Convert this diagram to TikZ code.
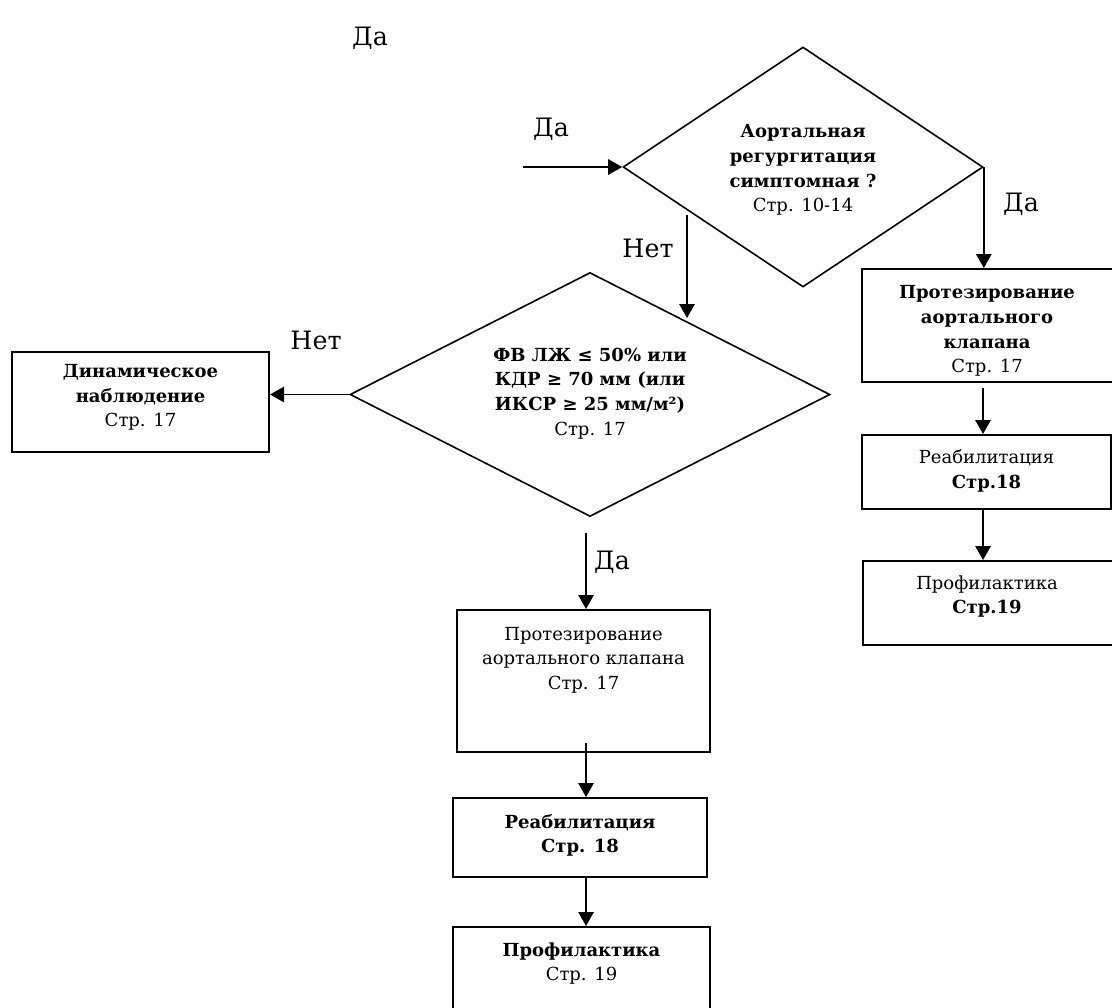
\documentclass[tikz,border=0pt]{standalone}
\usepackage{fontspec}
\setmainfont{DejaVu Serif}
\usetikzlibrary{shapes.geometric,arrows.meta}
\tikzset{
  box/.style={draw, line width=1.5pt, inner sep=0pt, rectangle},
  dia/.style={draw, line width=1.2pt, inner sep=0pt, diamond},
  txt/.style={align=center, inner sep=0pt, font=\fontsize{13.5}{18.5}\selectfont},
  lbl/.style={inner sep=0pt, font=\fontsize{19}{21}\selectfont},
  arr/.style={line width=1.4pt, -{Triangle[length=10.5pt,width=11.5pt]}},
}
\begin{document}
\begin{tikzpicture}[x=0.75pt,y=-0.75pt]
\useasboundingbox (0,0) rectangle (1112,1007);
% diamonds
\node[dia, minimum width=270pt, minimum height=180pt] (d1) at (803,167) {};
\node[txt] (d1t) at (803,170) {\textbf{Аортальная}\\\textbf{регургитация}\\\textbf{симптомная ?}\\Стр. 10-14};
\node[dia, minimum width=360pt, minimum height=183pt] (d2) at (590,394.5) {};
\node[txt] (d2t) at (590,393.5) {\textbf{ФВ ЛЖ ≤ 50\% или}\\\textbf{КДР ≥ 70 мм (или}\\\textbf{ИКСР ≥ 25 мм/м²)}\\Стр. 17};
% boxes
\node[box, minimum width=192.75pt, minimum height=75pt] (dyn) at (140.5,402) {};
\node[txt] (dynt) at (140.5,397.5) {\textbf{Динамическое}\\\textbf{наблюдение}\\Стр. 17};
\node[box, minimum width=189pt, minimum height=84.75pt] (p1) at (988,325.5) {};
\node[txt] (p1t) at (987,331) {\textbf{Протезирование}\\\textbf{аортального}\\\textbf{клапана}\\Стр. 17};
\node[box, minimum width=186.75pt, minimum height=55.5pt] (r1) at (986.5,472) {};
\node[txt] (r1t) at (986.5,471) {Реабилитация\\\textbf{Стр.18}};
\node[box, minimum width=188.25pt, minimum height=63pt] (f1) at (988.5,603) {};
\node[txt] (f1t) at (987,596.5) {Профилактика\\\textbf{Стр.19}};
\node[box, minimum width=189.75pt, minimum height=106.5pt] (p2) at (583.5,681) {};
\node[txt] (p2t) at (583.5,660) {Протезирование\\аортального клапана\\Стр. 17};
\node[box, minimum width=190.5pt, minimum height=59.25pt] (r2) at (580,837.5) {};
\node[txt] (r2t) at (580,835.5) {\textbf{Реабилитация}\\\textbf{Стр. 18}};
\node[box, minimum width=192.75pt, minimum height=66pt] (f2) at (581.5,971) {};
\node[txt] (f2t) at (581.5,963.5) {\textbf{Профилактика}\\Стр. 19};
% labels
\node[lbl] (l0) at (370,38) {Да};
\node[lbl] (l1) at (551,129) {Да};
\node[lbl] (l2) at (648,248) {Нет};
\node[lbl] (l3) at (1021,204) {Да};
\node[lbl] (l4) at (316,340) {Нет};
\node[lbl] (l5) at (612,562) {Да};
% connectors
\coordinate (s0) at (523,167);
\draw[arr] (s0) -- (d1.west);
\draw[arr] (d1.east) -- (d1.east |- p1.north);
\coordinate (s1) at (983,388);
\draw[arr] (s1) -- (s1 |- r1.north);
\draw[arr] (r1.south -| s1) -- (s1 |- f1.north);
\coordinate (s2) at (687,215);
\coordinate (e2) at (687,318);
\draw[arr] (s2) -- (e2);
\draw[arr] (d2.west) -- (d2.west -| dyn.east);
\coordinate (s3) at (586,533);
\draw[arr] (s3) -- (s3 |- p2.north);
\coordinate (s4) at (586,743);
\draw[arr] (s4) -- (s4 |- r2.north);
\draw[arr] (r2.south -| s4) -- (s4 |- f2.north);
\end{tikzpicture}
\end{document}
